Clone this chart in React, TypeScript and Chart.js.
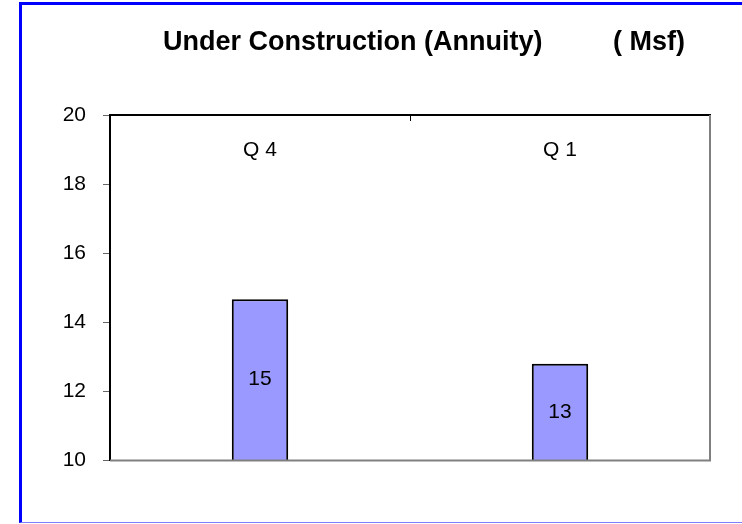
import React, { useEffect, useRef } from 'react';
import { Chart, registerables } from 'chart.js';

Chart.register(...registerables);

const categories: string[] = ['Q 4', 'Q 1'];
const values: number[] = [14.67, 12.8];
const yMin = 10;
const yMax = 20;
const yStep = 2;
const titleMain = 'Under Construction (Annuity)';
const titleUnit = '( Msf)';

const FONT = '"Liberation Sans", Arial, sans-serif';

export default function App() {
  const ref = useRef<HTMLCanvasElement>(null);

  useEffect(() => {
    if (!ref.current) return;

    const titlePlugin = {
      id: 'customTitle',
      afterDraw(chart: any) {
        const ctx = chart.ctx;
        ctx.save();
        ctx.font = `bold 27px ${FONT}`;
        ctx.fillStyle = '#000';
        ctx.textBaseline = 'alphabetic';
        ctx.textAlign = 'left';
        ctx.fillText(titleMain, 163, 50);
        ctx.textAlign = 'right';
        ctx.fillText(titleUnit, 685, 50);
        ctx.restore();
      },
    };

    const framePlugin = {
      id: 'frameAndLabels',
      afterDatasetsDraw(chart: any) {
        const { ctx, chartArea: a } = chart;
        ctx.save();
        ctx.strokeStyle = '#808080';
        ctx.lineWidth = 2;
        ctx.beginPath();
        ctx.moveTo(a.left, a.bottom);
        ctx.lineTo(a.right, a.bottom);
        ctx.lineTo(a.right, a.top);
        ctx.stroke();

        const meta = chart.getDatasetMeta(0);
        ctx.font = `21px ${FONT}`;
        ctx.fillStyle = '#000';
        ctx.textAlign = 'center';
        ctx.textBaseline = 'middle';
        meta.data.forEach((bar: any, i: number) => {
          ctx.fillText(String(Math.round(values[i])), bar.x, (bar.y + bar.base) / 2);
        });
        ctx.restore();
      },
    };

    const chart = new Chart(ref.current, {
      type: 'bar',
      data: {
        labels: categories,
        datasets: [
          {
            data: values,
            base: yMin,
            backgroundColor: '#9999FF',
            borderColor: '#000000',
            borderWidth: 2,
            borderSkipped: 'start',
            categoryPercentage: 1,
            barPercentage: 0.188,
          } as any,
        ],
      },
      options: {
        animation: false,
        responsive: false,
        devicePixelRatio: 1,
        layout: { padding: { top: 115, right: 32, bottom: 63.5, left: 0 } },
        plugins: {
          legend: { display: false },
          tooltip: { enabled: false },
          title: { display: false },
        },
        scales: {
          x: {
            type: 'category',
            position: 'top',
            offset: true,
            grid: {
              display: true,
              drawOnChartArea: false,
              drawTicks: true,
              tickLength: -6,
              color: '#000',
              lineWidth: 1,
              offset: true,
            },
            border: { display: true, color: '#000', width: 2 },
            ticks: {
              mirror: true,
              padding: 23,
              font: { family: FONT, size: 21 },
              color: '#000',
              maxRotation: 0,
              autoSkip: false,
            },
            afterFit: (s: any) => {
              s.height = 0;
            },
          },
          y: {
            type: 'linear',
            min: yMin,
            max: yMax,
            ticks: {
              stepSize: yStep,
              font: { family: FONT, size: 21 },
              color: '#000',
              padding: 17,
            },
            grid: {
              drawOnChartArea: false,
              drawTicks: true,
              tickLength: 7,
              color: '#666',
            },
            border: { display: true, color: '#000', width: 2 },
            afterFit: (s: any) => {
              s.width = 110;
            },
          },
        },
      } as any,
      plugins: [titlePlugin, framePlugin],
    });

    return () => chart.destroy();
  }, []);

  return (
    <div
      style={{
        position: 'fixed',
        left: 0,
        top: 0,
        width: 742,
        height: 524,
        overflow: 'hidden',
        background: '#fff',
      }}
    >
      <div
        style={{
          position: 'absolute',
          left: 19,
          top: 2,
          width: 800,
          height: 517,
          borderLeft: '3px solid #0000FF',
          borderTop: '3px solid #0000FF',
          borderBottom: '1px solid #8080FF',
        }}
      />
      <canvas
        ref={ref}
        width={742}
        height={524}
        style={{ position: 'absolute', left: 0, top: 0, width: 742, height: 524, display: 'block' }}
      />
    </div>
  );
}
